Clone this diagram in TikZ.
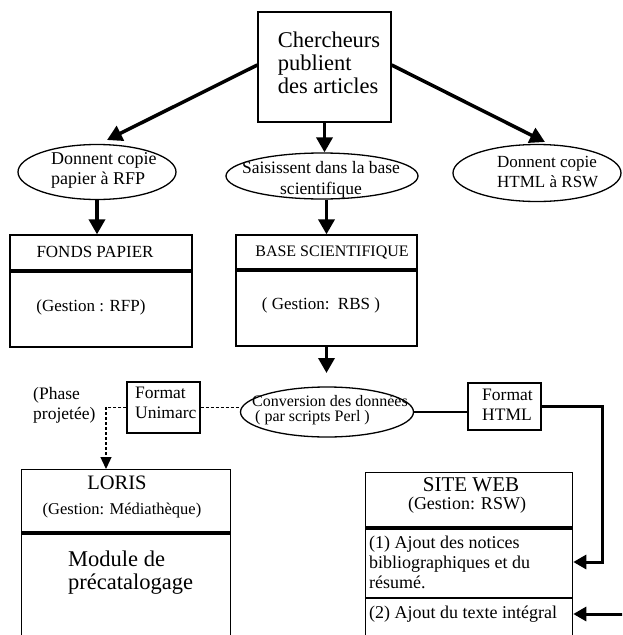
\documentclass[tikz,border=0pt]{standalone}
\usepackage{fontspec}
\setmainfont{Liberation Serif}
\usetikzlibrary{arrows.meta,shapes.geometric}
\newcommand\myfs[2]{\fontsize{#1}{#2}\selectfont}
\begin{document}
\begin{tikzpicture}[x=1pt,y=-1pt,
  box/.style={draw,line width=1.3pt,inner sep=0pt},
  ell/.style={draw,ellipse,line width=1.3pt,inner sep=0pt},
  txt/.style={inner sep=0pt,align=center},
  ltxt/.style={inner sep=0pt,align=left},
  bigarrow/.style={line width=3.5pt,-{Triangle[length=15pt,width=16pt]}},
  sidearrow/.style={line width=3pt,-{Triangle[length=13pt,width=14pt]}},
  sepline/.style={line width=4pt},
  dline/.style={line width=1.3pt,dash pattern=on 3pt off 2pt}]
\useasboundingbox (0,0) rectangle (622,635);
\fill[white] (0,0) rectangle (622,635);
\clip (0,0) rectangle (622,635);

% top
\node[box,minimum width=133pt,minimum height=110pt] (top) at (324.5,67) {};
\node[ltxt,font=\myfs{22.5}{23}] (toptxt) at (329,63) {Chercheurs\\publient\\des articles};

% ellipses
\node[ell,minimum width=158pt,minimum height=55pt] (e1) at (97,172) {};
\node[ltxt,anchor=west,font=\myfs{18}{20}] (e1t) at (51,170) {Donnent copie\\papier à RFP};
\node[ell,minimum width=192pt,minimum height=46pt] (e2) at (322,176) {};
\node[txt,font=\myfs{17.5}{21}] (e2t) at (321,180) {Saisissent dans la base\\scientifique};
\node[ell,minimum width=168pt,minimum height=57pt] (e3) at (537,173) {};
\node[ltxt,anchor=west,font=\myfs{17}{20}] (e3t) at (497,172) {Donnent copie\\HTML à RSW};

\coordinate (t1) at (107,140);
\coordinate (t3) at (545,142);
\draw[bigarrow] ([yshift=2pt]top.west) -- (t1);
\draw[bigarrow] ([yshift=2pt]top.east) -- (t3);
\draw[bigarrow] (top.south) -- (top.south |- e2.north);

% fonds / base
\node[box,minimum width=182pt,minimum height=112pt] (fonds) at (101,291) {};
\node[box,minimum width=181pt,minimum height=111pt] (base) at (326.5,290.5) {};
\draw[bigarrow] (e1.south) -- (e1.south |- fonds.north);
\draw[bigarrow] (base.north |- e2.south) -- (base.north);
\draw[sepline] ([yshift=-37pt]fonds.north west) -- ([yshift=-37pt,xshift=-2pt]fonds.north east);
\draw[sepline] ([yshift=-36pt]base.north west) -- ([yshift=-36pt,xshift=-2pt]base.north east);
\node[txt,font=\myfs{17}{20}] (fondsh) at (95,252) {FONDS PAPIER};
\node[txt,font=\myfs{17}{20}] (fondsg) at (91,307) {(Gestion : RFP)};
\node[txt,font=\myfs{16}{20}] (baseh) at (332,252) {BASE SCIENTIFIQUE};
\node[txt,font=\myfs{17}{20}] (baseg) at (321,305) {( Gestion:\ \ RBS )};

% conversion row
\coordinate (cvtip) at (326.5,373);
\draw[bigarrow] (base.south) -- (cvtip);
\node[ell,minimum width=173pt,minimum height=50pt] (conv) at (327,412) {};
\node[ltxt,font=\myfs{16}{14.5},anchor=west] (convt) at (252,410) {Conversion des données\\\hspace*{3pt}( par scripts Perl )};
\node[box,minimum width=73pt,minimum height=51pt] (unimarc) at (163.5,407.5) {};
\node[ltxt,font=\myfs{17.5}{20},anchor=west] (unimarct) at (135,403) {Format\\Unimarc};
\node[box,minimum width=73pt,minimum height=47pt] (html) at (504.5,406.5) {};
\node[ltxt,font=\myfs{17.5}{20},anchor=west] (htmlt) at (482,405) {Format\\HTML};
\node[ltxt,font=\myfs{17.5}{20},anchor=west] (phase) at (33,405) {(Phase\\projetée)};

% LORIS
\node[box,anchor=north west,minimum width=209pt,minimum height=200pt] (loris) at (21,469) {};
\draw[sepline] ([yshift=-64pt]loris.north west) -- ([yshift=-64pt]loris.north east);
\node[txt,font=\myfs{20.5}{22}] (lorish) at (117,483) {LORIS};
\node[txt,font=\myfs{16.5}{20}] (lorisg) at (122,511) {(Gestion: Médiathèque)};
\node[ltxt,font=\myfs{22.5}{23},anchor=west] (lorism) at (68,573) {Module de\\précatalogage};

% SITE WEB
\node[box,anchor=north west,minimum width=207pt,minimum height=200pt] (site) at (365,472) {};
\draw[sepline] ([yshift=-56pt]site.north west) -- ([yshift=-56pt]site.north east);
\draw[line width=1.3pt] ([yshift=-126pt]site.north west) -- ([yshift=-126pt]site.north east);
\node[txt,font=\myfs{21}{22}] (siteh) at (471,485) {SITE WEB};
\node[txt,font=\myfs{18}{20}] (siteg) at (467,505) {(Gestion: RSW)};
\node[ltxt,font=\myfs{18}{20},anchor=west] (site1) at (369,562) {(1) Ajout des notices\\bibliographiques et du\\résumé.};
\node[ltxt,font=\myfs{18}{20},anchor=west] (site2) at (369,614) {(2) Ajout du texte intégral};

% connectors
\draw[line width=2pt] (conv.east) -- (conv.east -| html.west);
\coordinate (c1) at (602,562);
\draw[sidearrow] (html.east) -| (c1) -- (c1 -| site.east);
\coordinate (c2) at (630,614);
\draw[sidearrow] (c2) -- (c2 -| site.east);
\draw[dline] (unimarc.east) -- (unimarc.east -| conv.west);
\coordinate (d1) at (106,469);
\draw[dline,-{Triangle[length=12pt,width=11pt]}] (unimarc.west) -| (d1);
\end{tikzpicture}
\end{document}
